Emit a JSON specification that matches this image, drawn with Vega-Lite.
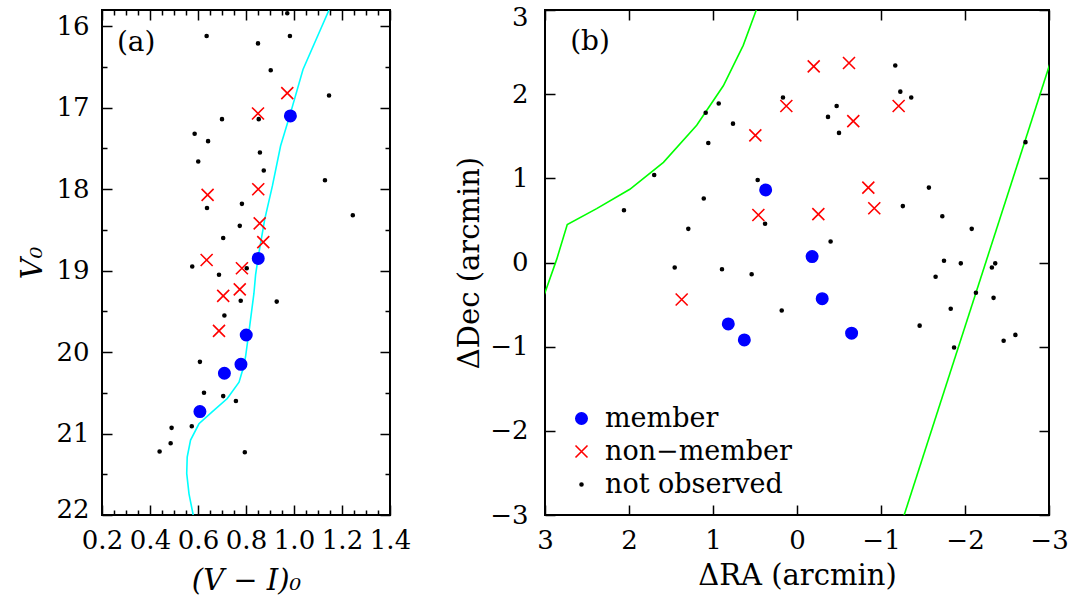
{
  "$schema": "https://vega.github.io/schema/vega-lite/v6.json",
  "background": "white",
  "padding": {"left": 17, "top": 3, "right": 5, "bottom": 0},
  "config": {
    "font": "DejaVu Serif",
    "view": {"stroke": "black", "strokeWidth": 2},
    "axis": {
      "labelFont": "DejaVu Serif", "labelFontSize": 26, "labelColor": "black",
      "titleFont": "DejaVu Serif", "titleFontSize": 29, "titleFontWeight": "normal", "titleColor": "black",
      "domain": false, "grid": false, "tickColor": "black", "tickWidth": 1.5,
      "labelOverlap": false, "labelFlush": false, "labelBound": false
    },
    "legend": {
      "labelFont": "DejaVu Serif", "labelFontSize": 27, "labelColor": "black", "labelLimit": 0
    }
  },
  "datasets": {
    "iso": [
      {"i": 0, "vi": 1.146, "v": 15.8},
      {"i": 1, "vi": 1.0375, "v": 16.53},
      {"i": 2, "vi": 0.986, "v": 17.06},
      {"i": 3, "vi": 0.944, "v": 17.47},
      {"i": 4, "vi": 0.91, "v": 17.96},
      {"i": 5, "vi": 0.878, "v": 18.37},
      {"i": 6, "vi": 0.854, "v": 18.78},
      {"i": 7, "vi": 0.84, "v": 19.05},
      {"i": 8, "vi": 0.833, "v": 19.28},
      {"i": 9, "vi": 0.815, "v": 19.69},
      {"i": 10, "vi": 0.798, "v": 20.06},
      {"i": 11, "vi": 0.786, "v": 20.22},
      {"i": 12, "vi": 0.771, "v": 20.37},
      {"i": 13, "vi": 0.722, "v": 20.57},
      {"i": 14, "vi": 0.66, "v": 20.73},
      {"i": 15, "vi": 0.604, "v": 20.88},
      {"i": 16, "vi": 0.569, "v": 21.08},
      {"i": 17, "vi": 0.555, "v": 21.29},
      {"i": 18, "vi": 0.553, "v": 21.49},
      {"i": 19, "vi": 0.5625, "v": 21.74},
      {"i": 20, "vi": 0.58, "v": 22.0}
    ],
    "cmd": [
      {"vi": 0.985, "v": 17.10, "type": "member"},
      {"vi": 0.851, "v": 18.85, "type": "member"},
      {"vi": 0.801, "v": 19.79, "type": "member"},
      {"vi": 0.779, "v": 20.15, "type": "member"},
      {"vi": 0.71, "v": 20.26, "type": "member"},
      {"vi": 0.608, "v": 20.73, "type": "member"},
      {"vi": 0.972, "v": 16.82, "type": "non−member"},
      {"vi": 0.85, "v": 17.07, "type": "non−member"},
      {"vi": 0.64, "v": 18.07, "type": "non−member"},
      {"vi": 0.851, "v": 18.0, "type": "non−member"},
      {"vi": 0.857, "v": 18.42, "type": "non−member"},
      {"vi": 0.872, "v": 18.65, "type": "non−member"},
      {"vi": 0.636, "v": 18.87, "type": "non−member"},
      {"vi": 0.783, "v": 18.97, "type": "non−member"},
      {"vi": 0.774, "v": 19.23, "type": "non−member"},
      {"vi": 0.705, "v": 19.31, "type": "non−member"},
      {"vi": 0.6875, "v": 19.74, "type": "non−member"},
      {"vi": 0.972, "v": 15.84, "type": "not observed"},
      {"vi": 0.636, "v": 16.12, "type": "not observed"},
      {"vi": 0.983, "v": 16.12, "type": "not observed"},
      {"vi": 0.85, "v": 16.21, "type": "not observed"},
      {"vi": 0.903, "v": 16.54, "type": "not observed"},
      {"vi": 1.146, "v": 16.85, "type": "not observed"},
      {"vi": 0.853, "v": 17.14, "type": "not observed"},
      {"vi": 0.70, "v": 17.14, "type": "not observed"},
      {"vi": 0.586, "v": 17.32, "type": "not observed"},
      {"vi": 0.642, "v": 17.41, "type": "not observed"},
      {"vi": 0.858, "v": 17.55, "type": "not observed"},
      {"vi": 0.601, "v": 17.66, "type": "not observed"},
      {"vi": 0.874, "v": 17.77, "type": "not observed"},
      {"vi": 1.129, "v": 17.89, "type": "not observed"},
      {"vi": 0.783, "v": 18.18, "type": "not observed"},
      {"vi": 0.6375, "v": 18.23, "type": "not observed"},
      {"vi": 1.245, "v": 18.32, "type": "not observed"},
      {"vi": 0.774, "v": 18.45, "type": "not observed"},
      {"vi": 0.705, "v": 18.60, "type": "not observed"},
      {"vi": 0.576, "v": 18.95, "type": "not observed"},
      {"vi": 0.803, "v": 18.97, "type": "not observed"},
      {"vi": 0.6875, "v": 19.05, "type": "not observed"},
      {"vi": 0.778, "v": 19.37, "type": "not observed"},
      {"vi": 0.928, "v": 19.38, "type": "not observed"},
      {"vi": 0.71, "v": 19.55, "type": "not observed"},
      {"vi": 0.608, "v": 20.12, "type": "not observed"},
      {"vi": 0.625, "v": 20.50, "type": "not observed"},
      {"vi": 0.705, "v": 20.54, "type": "not observed"},
      {"vi": 0.758, "v": 20.60, "type": "not observed"},
      {"vi": 0.49, "v": 20.93, "type": "not observed"},
      {"vi": 0.574, "v": 20.91, "type": "not observed"},
      {"vi": 0.486, "v": 21.12, "type": "not observed"},
      {"vi": 0.44, "v": 21.22, "type": "not observed"},
      {"vi": 0.795, "v": 21.23, "type": "not observed"}
    ],
    "pos": [
      {"ra": 0.373, "dec": 0.862, "type": "member"},
      {"ra": -0.18, "dec": 0.07, "type": "member"},
      {"ra": -0.30, "dec": -0.43, "type": "member"},
      {"ra": -0.65, "dec": -0.84, "type": "member"},
      {"ra": 0.818, "dec": -0.73, "type": "member"},
      {"ra": 0.627, "dec": -0.92, "type": "member"},
      {"ra": 0.127, "dec": 1.86, "type": "non−member"},
      {"ra": 0.496, "dec": 1.51, "type": "non−member"},
      {"ra": 0.46, "dec": 0.565, "type": "non−member"},
      {"ra": -0.199, "dec": 2.33, "type": "non−member"},
      {"ra": -0.619, "dec": 2.37, "type": "non−member"},
      {"ra": -1.21, "dec": 1.86, "type": "non−member"},
      {"ra": -0.67, "dec": 1.68, "type": "non−member"},
      {"ra": -0.849, "dec": 0.89, "type": "non−member"},
      {"ra": -0.92, "dec": 0.645, "type": "non−member"},
      {"ra": -0.254, "dec": 0.574, "type": "non−member"},
      {"ra": 1.373, "dec": -0.44, "type": "non−member"},
      {"ra": 0.932, "dec": 1.89, "type": "not observed"},
      {"ra": 1.087, "dec": 1.78, "type": "not observed"},
      {"ra": 0.762, "dec": 1.65, "type": "not observed"},
      {"ra": 1.056, "dec": 1.42, "type": "not observed"},
      {"ra": 0.167, "dec": 1.96, "type": "not observed"},
      {"ra": 1.70, "dec": 1.04, "type": "not observed"},
      {"ra": 0.468, "dec": 0.98, "type": "not observed"},
      {"ra": 1.11, "dec": 0.76, "type": "not observed"},
      {"ra": 2.06, "dec": 0.62, "type": "not observed"},
      {"ra": 0.38, "dec": 0.46, "type": "not observed"},
      {"ra": 1.294, "dec": 0.40, "type": "not observed"},
      {"ra": 1.456, "dec": -0.06, "type": "not observed"},
      {"ra": 0.893, "dec": -0.08, "type": "not observed"},
      {"ra": 0.54, "dec": -0.14, "type": "not observed"},
      {"ra": -1.17, "dec": 2.34, "type": "not observed"},
      {"ra": -1.23, "dec": 2.03, "type": "not observed"},
      {"ra": -1.36, "dec": 1.96, "type": "not observed"},
      {"ra": -0.472, "dec": 1.86, "type": "not observed"},
      {"ra": -0.369, "dec": 1.73, "type": "not observed"},
      {"ra": -0.5, "dec": 1.54, "type": "not observed"},
      {"ra": -2.72, "dec": 1.43, "type": "not observed"},
      {"ra": -1.57, "dec": 0.89, "type": "not observed"},
      {"ra": -1.26, "dec": 0.67, "type": "not observed"},
      {"ra": -1.73, "dec": 0.55, "type": "not observed"},
      {"ra": -2.08, "dec": 0.40, "type": "not observed"},
      {"ra": -0.40, "dec": 0.25, "type": "not observed"},
      {"ra": -1.75, "dec": 0.02, "type": "not observed"},
      {"ra": -1.95, "dec": -0.01, "type": "not observed"},
      {"ra": -2.32, "dec": -0.06, "type": "not observed"},
      {"ra": -2.36, "dec": -0.01, "type": "not observed"},
      {"ra": -1.65, "dec": -0.17, "type": "not observed"},
      {"ra": 0.182, "dec": -0.57, "type": "not observed"},
      {"ra": -2.13, "dec": -0.36, "type": "not observed"},
      {"ra": -2.34, "dec": -0.42, "type": "not observed"},
      {"ra": -1.83, "dec": -0.55, "type": "not observed"},
      {"ra": -1.46, "dec": -0.75, "type": "not observed"},
      {"ra": -1.87, "dec": -1.01, "type": "not observed"},
      {"ra": -2.46, "dec": -0.93, "type": "not observed"},
      {"ra": -2.60, "dec": -0.86, "type": "not observed"}
    ],
    "bound": [
      {"seg": "L", "i": 0, "ra": 3.05, "dec": -0.5},
      {"seg": "L", "i": 1, "ra": 2.86, "dec": 0.04},
      {"seg": "L", "i": 2, "ra": 2.735, "dec": 0.45},
      {"seg": "L", "i": 3, "ra": 2.385, "dec": 0.64},
      {"seg": "L", "i": 4, "ra": 1.99, "dec": 0.87},
      {"seg": "L", "i": 5, "ra": 1.59, "dec": 1.19},
      {"seg": "L", "i": 6, "ra": 1.194, "dec": 1.63},
      {"seg": "L", "i": 7, "ra": 0.877, "dec": 2.10},
      {"seg": "L", "i": 8, "ra": 0.64, "dec": 2.58},
      {"seg": "L", "i": 9, "ra": 0.488, "dec": 2.99},
      {"seg": "L", "i": 10, "ra": 0.45, "dec": 3.1},
      {"seg": "R", "i": 0, "ra": -1.25, "dec": -3.08},
      {"seg": "R", "i": 1, "ra": -3.03, "dec": 2.42}
    ]
  },
  "spacing": 42,
  "resolve": {
    "scale": {"fill": "independent", "stroke": "independent", "shape": "independent", "size": "independent"},
    "legend": {"fill": "independent", "stroke": "independent", "shape": "independent", "size": "independent"}
  },
  "hconcat": [
    {
      "width": 288,
      "height": 505,
      "resolve": {"axis": {"x": "independent", "y": "independent"}},
      "layer": [
        {
          "data": {"name": "iso"},
          "mark": {"type": "line", "color": "#00FFFF", "strokeWidth": 1.6, "clip": true},
          "encoding": {
            "x": {
              "field": "vi", "type": "quantitative",
              "scale": {"domain": [0.2, 1.4], "nice": false, "zero": false},
              "axis": {
                "orient": "bottom", "title": "(V − I)₀", "titleFontStyle": "italic",
                "values": [0.2, 0.25, 0.3, 0.35, 0.4, 0.45, 0.5, 0.55, 0.6, 0.65, 0.7, 0.75, 0.8, 0.85, 0.9, 0.95, 1.0, 1.05, 1.1, 1.15, 1.2, 1.25, 1.3, 1.35, 1.4],
                "tickSize": {"condition": {"test": "abs(datum.value*5 - round(datum.value*5)) < 0.01", "value": -10}, "value": -5},
                "labelExpr": "abs(datum.value*5 - round(datum.value*5)) < 0.01 ? format(datum.value, '.1f') : ''",
                "labelPadding": 22, "titlePadding": 8
              }
            },
            "y": {
              "field": "v", "type": "quantitative",
              "scale": {"domain": [15.8, 22], "reverse": true, "nice": false, "zero": false},
              "axis": {
                "orient": "left", "title": "V₀", "titleFontStyle": "italic",
                "values": [16, 16.5, 17, 17.5, 18, 18.5, 19, 19.5, 20, 20.5, 21, 21.5, 22],
                "tickSize": {"condition": {"test": "abs(datum.value - round(datum.value)) < 0.01", "value": -10}, "value": -5},
                "labelExpr": "abs(datum.value - round(datum.value)) < 0.01 ? format(datum.value, 'd') : ''",
                "labelOffset": {"condition": {"test": "datum.value > 21.9", "value": -6}, "value": 0},
                "labelPadding": 23, "titlePadding": 8
              }
            },
            "order": {"field": "i", "type": "quantitative"}
          }
        },
        {
          "data": {"name": "cmd"},
          "mark": {"type": "point", "strokeWidth": 1.6, "opacity": 1},
          "encoding": {
            "x": {
              "field": "vi", "type": "quantitative",
              "axis": {
                "orient": "top", "labels": false, "title": null,
                "values": [0.2, 0.25, 0.3, 0.35, 0.4, 0.45, 0.5, 0.55, 0.6, 0.65, 0.7, 0.75, 0.8, 0.85, 0.9, 0.95, 1.0, 1.05, 1.1, 1.15, 1.2, 1.25, 1.3, 1.35, 1.4],
                "tickSize": {"condition": {"test": "abs(datum.value*5 - round(datum.value*5)) < 0.01", "value": -10}, "value": -5}
              }
            },
            "y": {
              "field": "v", "type": "quantitative",
              "axis": {
                "orient": "right", "labels": false, "title": null,
                "values": [16, 16.5, 17, 17.5, 18, 18.5, 19, 19.5, 20, 20.5, 21, 21.5, 22],
                "tickSize": {"condition": {"test": "abs(datum.value - round(datum.value)) < 0.01", "value": -10}, "value": -5}
              }
            },
            "shape": {"field": "type", "type": "nominal", "scale": {"domain": ["member", "non−member", "not observed"], "range": ["circle", "M-1,-1L1,1M-1,1L1,-1", "circle"]}, "legend": null},
            "fill": {"field": "type", "type": "nominal", "scale": {"domain": ["member", "non−member", "not observed"], "range": ["#0000FF", "transparent", "#000000"]}, "legend": null},
            "stroke": {"field": "type", "type": "nominal", "scale": {"domain": ["member", "non−member", "not observed"], "range": ["#0000FF", "#FF0000", "#000000"]}, "legend": null},
            "size": {"field": "type", "type": "nominal", "scale": {"type": "ordinal", "domain": ["member", "non−member", "not observed"], "range": [130, 144, 9]}, "legend": null}
          }
        },
        {
          "data": {"values": [{"x": 0.262, "y": 16.2, "t": "(a)"}]},
          "mark": {"type": "text", "font": "DejaVu Serif", "fontSize": 28, "align": "left", "baseline": "middle", "color": "black"},
          "encoding": {
            "x": {"field": "x", "type": "quantitative", "axis": null},
            "y": {"field": "y", "type": "quantitative", "axis": null},
            "text": {"field": "t", "type": "nominal"}
          }
        }
      ]
    },
    {
      "width": 504,
      "height": 505,
      "resolve": {"axis": {"x": "independent", "y": "independent"}},
      "layer": [
        {
          "data": {"name": "bound"},
          "mark": {"type": "line", "color": "#00FF00", "strokeWidth": 1.6, "clip": true},
          "encoding": {
            "x": {
              "field": "ra", "type": "quantitative",
              "scale": {"domain": [-3, 3], "reverse": true, "nice": false, "zero": false},
              "axis": {
                "orient": "bottom", "title": "ΔRA (arcmin)",
                "values": [-3, -2, -1, 0, 1, 2, 3], "format": "d",
                "tickSize": -10, "labelPadding": 22, "titlePadding": 8
              }
            },
            "y": {
              "field": "dec", "type": "quantitative",
              "scale": {"domain": [-3, 3], "nice": false, "zero": false},
              "axis": {
                "orient": "left", "title": "ΔDec (arcmin)",
                "values": [-3, -2, -1, 0, 1, 2, 3], "format": "d",
                "tickSize": -10, "labelPadding": 27, "titlePadding": 5,
                "labelOffset": {"condition": {"test": "datum.value > 2.9", "value": 7}, "value": 0}
              }
            },
            "detail": {"field": "seg", "type": "nominal"},
            "order": {"field": "i", "type": "quantitative"}
          }
        },
        {
          "data": {"name": "pos"},
          "mark": {"type": "point", "strokeWidth": 1.6, "opacity": 1},
          "encoding": {
            "x": {
              "field": "ra", "type": "quantitative",
              "axis": {"orient": "top", "labels": false, "title": null, "values": [-3, -2, -1, 0, 1, 2, 3], "tickSize": -10}
            },
            "y": {
              "field": "dec", "type": "quantitative",
              "axis": {"orient": "right", "labels": false, "title": null, "values": [-3, -2, -1, 0, 1, 2, 3], "tickSize": -10}
            },
            "shape": {"field": "type", "type": "nominal", "title": null, "scale": {"domain": ["member", "non−member", "not observed"], "range": ["circle", "M-1,-1L1,1M-1,1L1,-1", "circle"]},
              "legend": {"orient": "none", "legendX": 23, "legendY": 395, "title": null, "labelFontSize": 27, "labelLimit": 0, "labelOffset": 10, "rowPadding": 5, "symbolStrokeWidth": 1.6, "padding": 0}},
            "fill": {"field": "type", "type": "nominal", "title": null, "scale": {"domain": ["member", "non−member", "not observed"], "range": ["#0000FF", "transparent", "#000000"]}},
            "stroke": {"field": "type", "type": "nominal", "title": null, "scale": {"domain": ["member", "non−member", "not observed"], "range": ["#0000FF", "#FF0000", "#000000"]}},
            "size": {"field": "type", "type": "nominal", "title": null, "scale": {"type": "ordinal", "domain": ["member", "non−member", "not observed"], "range": [130, 144, 9]}}
          }
        },
        {
          "data": {"values": [{"x": 2.7, "y": 2.62, "t": "(b)"}]},
          "mark": {"type": "text", "font": "DejaVu Serif", "fontSize": 28, "align": "left", "baseline": "middle", "color": "black"},
          "encoding": {
            "x": {"field": "x", "type": "quantitative", "axis": null},
            "y": {"field": "y", "type": "quantitative", "axis": null},
            "text": {"field": "t", "type": "nominal"}
          }
        }
      ]
    }
  ]
}
